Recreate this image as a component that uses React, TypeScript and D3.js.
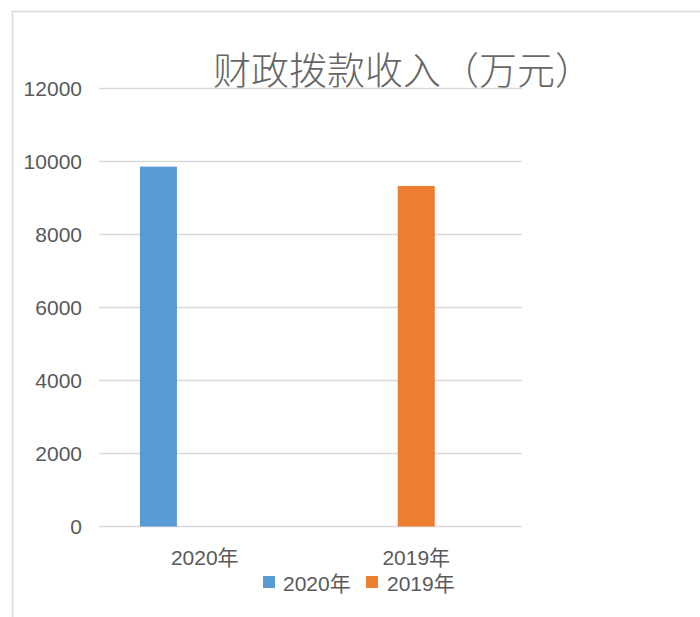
import React from "react";
import * as d3 from "d3";

const title = "财政拨款收入（万元）";
const categories = ["2020年", "2019年"];
const seriesNames = ["2020年", "2019年"];
const seriesColors = ["#5B9BD5", "#ED7D31"];
// values[series][category]; null = no bar
const series2020 = [9860, null];
const series2019 = [null, 9330];
const yTicks = [0, 2000, 4000, 6000, 8000, 10000, 12000];

const W = 700;
const H = 617;
const plot = { left: 99, right: 522, top: 88.5, bottom: 526.5 };
// bar centre as fraction of each category band, per series (as in the source)
const seriesCenterFrac = [0.281, 0.5];
const barFrac = 0.175;

const FONT = "'Liberation Sans', Arial, 'Noto Sans CJK SC', sans-serif";
const TEXT = "#595959";
const GRID = "#d9d9d9";

export default function App() {
  const x = d3.scaleBand<string>().domain(categories).range([plot.left, plot.right]).padding(0);
  const y = d3.scaleLinear().domain([0, 12000]).range([plot.bottom, plot.top]);
  const bw = x.bandwidth();
  const allSeries = [series2020, series2019];

  const legendItems = [
    { name: seriesNames[0], color: seriesColors[0], sx: 263, tx: 283 },
    { name: seriesNames[1], color: seriesColors[1], sx: 366, tx: 387 },
  ];

  return (
    <svg
      width={W}
      height={H}
      style={{ position: "absolute", left: 0, top: 0, background: "#fff" }}
      fontFamily={FONT}
    >
      <rect x={0} y={0} width={W} height={H} fill="#fff" />
      <rect x={12.5} y={11.5} width={W + 20} height={H + 20} fill="none" stroke={GRID} strokeWidth={1.5} />

      <text
        x={403}
        y={67}
        textAnchor="middle"
        dominantBaseline="central"
        fontSize={38}
        fontFamily="'Noto Sans CJK SC', sans-serif"
        fontWeight={300}
        fill="#666"
      >
        {title}
      </text>

      {yTicks.map((t) => (
        <g key={t}>
          <line x1={plot.left} x2={plot.right} y1={y(t)} y2={y(t)} stroke={GRID} strokeWidth={1.5} />
          <text x={82} y={y(t)} textAnchor="end" dominantBaseline="central" fontSize={21} fill={TEXT}>
            {t}
          </text>
        </g>
      ))}

      {allSeries.map((vals, si) =>
        vals.map((v, ci) => {
          if (v == null) return null;
          const cx = (x(categories[ci]) as number) + bw * seriesCenterFrac[si];
          const w = bw * barFrac;
          return (
            <rect
              key={`${si}-${ci}`}
              x={cx - w / 2}
              y={y(v)}
              width={w}
              height={y(0) - y(v)}
              fill={seriesColors[si]}
            />
          );
        })
      )}

      {categories.map((c) => (
        <text
          key={c}
          x={(x(c) as number) + bw / 2}
          y={557}
          textAnchor="middle"
          dominantBaseline="central"
          fontSize={21}
          fill={TEXT}
        >
          {c}
        </text>
      ))}

      {legendItems.map((l) => (
        <g key={l.name}>
          <rect x={l.sx} y={576} width={12} height={12} fill={l.color} />
          <text x={l.tx} y={583} dominantBaseline="central" fontSize={21} fill={TEXT}>
            {l.name}
          </text>
        </g>
      ))}
    </svg>
  );
}
